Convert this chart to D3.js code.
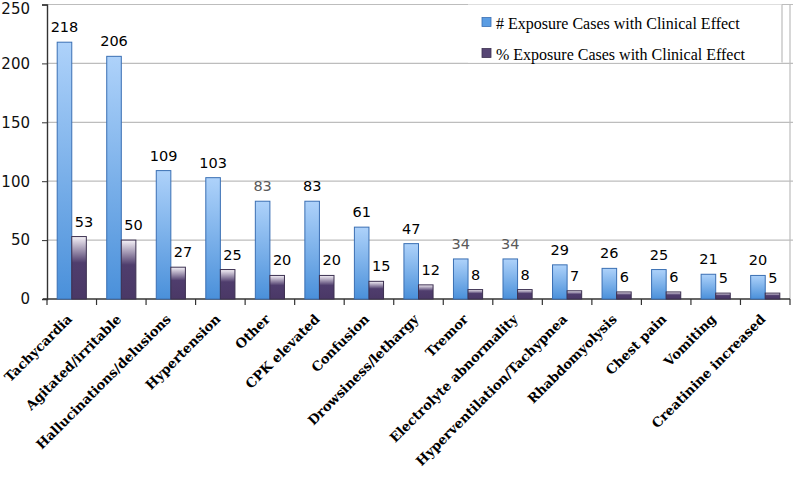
<!DOCTYPE html>
<html>
<head>
<meta charset="utf-8">
<script src="https://cdn.jsdelivr.net/npm/d3@7"></script>
<style>
  body { margin: 0; background: #fff; }
  svg { display: block; }
</style>
</head>
<body>
<div id="chart"></div>
<script>
// chart data
const categories = ["Tachycardia", "Agitated/irritable", "Hallucinations/delusions", "Hypertension",
  "Other", "CPK elevated", "Confusion", "Drowsiness/lethargy", "Tremor", "Electrolyte abnormality",
  "Hyperventilation/Tachypnea", "Rhabdomyolysis", "Chest pain", "Vomiting", "Creatinine increased"];
const seriesNames = ["# Exposure Cases with Clinical Effect", "% Exposure Cases with Clinical Effect"];
const countValues = [218, 206, 109, 103, 83, 83, 61, 47, 34, 34, 29, 26, 25, 21, 20];
const pctValues = [53, 50, 27, 25, 20, 20, 15, 12, 8, 8, 7, 6, 6, 5, 5];
const yTicks = [0, 50, 100, 150, 200, 250];
// a few labels in the source are drawn in grey
const greyCountLabels = ["Other", "Tremor", "Electrolyte abnormality"];

const W = 793, H = 484;
const margin = {top: 4.5, right: 3, bottom: 185, left: 47},
    width = W - margin.left - margin.right,
    height = H - margin.top - margin.bottom;

const svg = d3.select("#chart").append("svg")
    .attr("width", W)
    .attr("height", H);

const defs = svg.append("defs");
const gBlue = defs.append("linearGradient").attr("id", "gBlue")
    .attr("x1", 0).attr("y1", 0).attr("x2", 0).attr("y2", 1);
gBlue.append("stop").attr("offset", "0%").attr("stop-color", "#aed2fa");
gBlue.append("stop").attr("offset", "100%").attr("stop-color", "#4a90da");
const gPurple = defs.append("linearGradient").attr("id", "gPurple")
    .attr("x1", 0).attr("y1", 0).attr("x2", 0).attr("y2", 1);
gPurple.append("stop").attr("offset", "0%").attr("stop-color", "#f6f2f8");
gPurple.append("stop").attr("offset", "42%").attr("stop-color", "#4f3d6d");
gPurple.append("stop").attr("offset", "100%").attr("stop-color", "#4a3866");

const g = svg.append("g")
    .attr("transform", `translate(${margin.left},${margin.top})`);

const x = d3.scaleBand()
    .domain(categories)
    .range([0, width])
    .padding(0);

const xs = d3.scaleBand()
    .domain(seriesNames)
    .range([0, x.bandwidth()])
    .paddingInner(0)
    .paddingOuter(0.7);

const y = d3.scaleLinear()
    .domain([0, 250])
    .range([height, 0]);

// gridlines
g.append("g")
  .selectAll("line")
  .data(yTicks.filter(d => d > 0))
  .join("line")
    .attr("x1", 0)
    .attr("x2", width + margin.right)
    .attr("y1", d => y(d))
    .attr("y2", d => y(d))
    .attr("stroke", "#bdbdbd")
    .attr("stroke-width", 1.2);

// right edge of plot
g.append("line")
    .attr("x1", width).attr("x2", width)
    .attr("y1", y(250)).attr("y2", height)
    .attr("stroke", "#bdbdbd")
    .attr("stroke-width", 1.2);

// Y axis
const yAxis = g.append("g")
    .call(d3.axisLeft(y).tickValues(yTicks).tickSizeOuter(0).tickSize(5).tickPadding(12));
yAxis.select(".domain").attr("stroke", "#333").attr("stroke-width", 1.4);
yAxis.selectAll(".tick line").attr("stroke", "#333");
yAxis.selectAll("text")
    .attr("font-family", "DejaVu Sans, sans-serif")
    .attr("font-size", "15px")
    .attr("fill", "#111");
// top label sits a little below its gridline, as in the source
yAxis.selectAll(".tick text").filter(d => d === 250).attr("dy", "0.6em");

// X axis with ticks on the category boundaries
const xAxis = g.append("g")
    .attr("transform", `translate(0,${height})`);
xAxis.append("line")
    .attr("x1", -4).attr("x2", width)
    .attr("stroke", "#333").attr("stroke-width", 1.4);
xAxis.selectAll("line.tk")
  .data(categories.concat(["end"]))
  .join("line")
    .attr("class", "tk")
    .attr("x1", (d, i) => i * x.step())
    .attr("x2", (d, i) => i * x.step())
    .attr("y1", 0).attr("y2", 6)
    .attr("stroke", "#333").attr("stroke-width", 1.2);

xAxis.selectAll("text")
  .data(categories)
  .join("text")
    .attr("transform", d => `translate(${x(d) + x.bandwidth() / 2 + 1},${21}) rotate(-45)`)
    .attr("text-anchor", "end")
    .attr("font-family", "DejaVu Serif, serif")
    .attr("font-weight", "bold")
    .attr("font-size", "13.2px")
    .attr("fill", "#000")
    .text(d => d);

// bars
const groups = g.append("g")
  .selectAll("g")
  .data(categories)
  .join("g")
    .attr("transform", d => `translate(${x(d)},0)`);

groups.append("rect")
    .attr("x", xs(seriesNames[0]))
    .attr("y", (d, i) => y(countValues[i]))
    .attr("width", xs.bandwidth())
    .attr("height", (d, i) => height - y(countValues[i]))
    .attr("fill", "url(#gBlue)")
    .attr("stroke", "#3a6fb3")
    .attr("stroke-width", 1);

groups.append("rect")
    .attr("x", xs(seriesNames[1]))
    .attr("y", (d, i) => y(pctValues[i]))
    .attr("width", xs.bandwidth())
    .attr("height", (d, i) => height - y(pctValues[i]))
    .attr("fill", "url(#gPurple)")
    .attr("stroke", "#3c3050")
    .attr("stroke-width", 1);

// value labels
groups.append("text")
    .attr("x", xs(seriesNames[0]) + xs.bandwidth() / 2)
    .attr("y", (d, i) => y(countValues[i]) - 10)
    .attr("text-anchor", "middle")
    .attr("font-family", "DejaVu Sans, sans-serif")
    .attr("font-size", "14.5px")
    .attr("fill", d => greyCountLabels.includes(d) ? "#5a5a5a" : "#000")
    .text((d, i) => countValues[i]);

groups.append("text")
    .attr("x", xs(seriesNames[1]) + 3)
    .attr("y", (d, i) => y(pctValues[i]) - 10)
    .attr("text-anchor", "start")
    .attr("font-family", "DejaVu Sans, sans-serif")
    .attr("font-size", "14.5px")
    .attr("fill", "#000")
    .text((d, i) => pctValues[i]);

// legend
const legend = svg.append("g").attr("transform", "translate(468,4.5)");
legend.append("rect")
    .attr("width", 314).attr("height", 58)
    .attr("fill", "#fff");
legend.append("line")
    .attr("x1", 314).attr("x2", 314).attr("y1", 0).attr("y2", 58)
    .attr("stroke", "#bdbdbd").attr("stroke-width", 1.2);

const legendStrokes = ["#3a6fb3", "#3c3050"];
const items = legend.selectAll("g.item")
  .data(seriesNames)
  .join("g")
    .attr("class", "item")
    .attr("transform", (d, i) => `translate(14,${13 + i * 31})`);
items.append("rect")
    .attr("width", 9).attr("height", 9)
    .attr("fill", (d, i) => i === 0 ? "#5b9de3" : "#574675")
    .attr("stroke", (d, i) => legendStrokes[i])
    .attr("stroke-width", 0.8);
items.append("text")
    .attr("x", 14)
    .attr("y", 11)
    .attr("font-family", "Liberation Serif, serif")
    .attr("font-size", "16px")
    .attr("fill", "#000")
    .text(d => d);
</script>
</body>
</html>
